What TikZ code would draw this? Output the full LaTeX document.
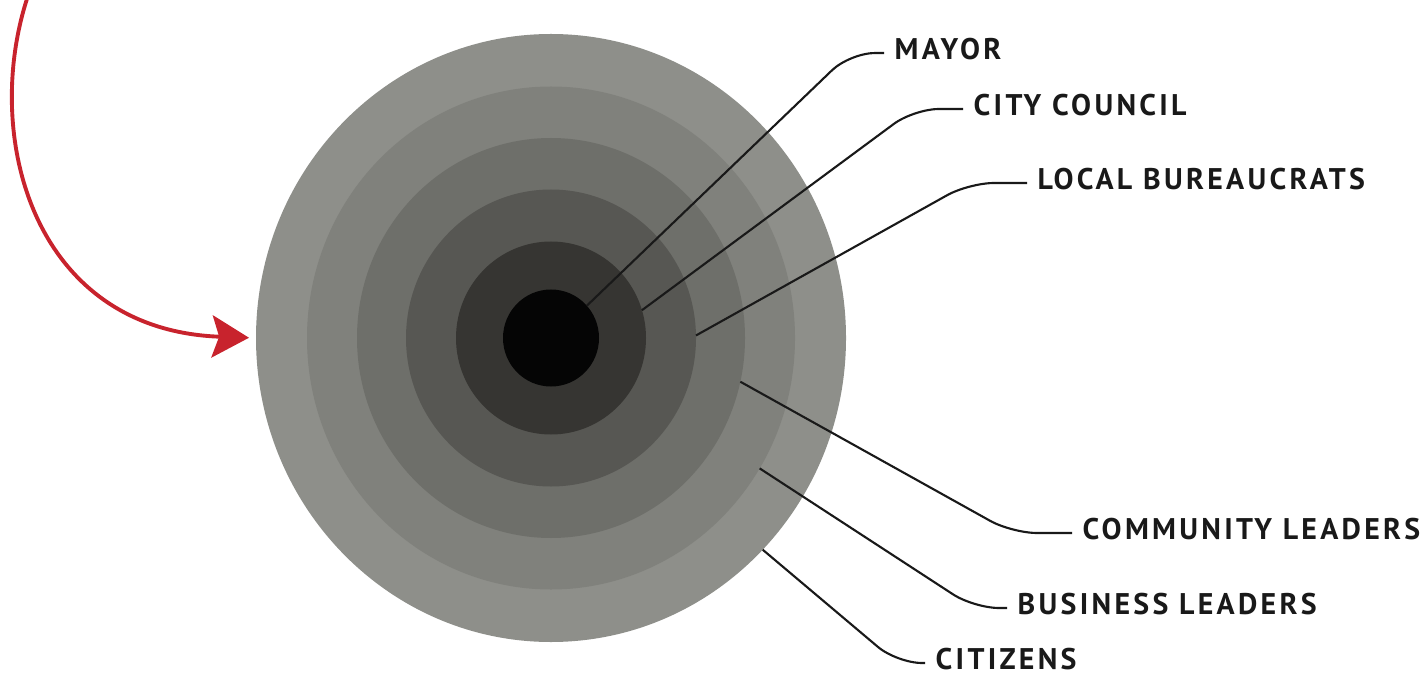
\documentclass[tikz,border=0pt]{standalone}
\usepackage{fontspec}
\usepackage{xcolor}
\usetikzlibrary{arrows.meta, shapes.geometric}
\newfontfamily\labelfont{PT Sans}[LetterSpace=11]

\definecolor{ringA}{HTML}{8E8F8A}
\definecolor{ringB}{HTML}{80817C}
\definecolor{ringC}{HTML}{6E6F6A}
\definecolor{ringD}{HTML}{575753}
\definecolor{ringE}{HTML}{363532}
\definecolor{ringF}{HTML}{050505}
\definecolor{arrowred}{HTML}{C8232D}

\begin{document}
\begin{tikzpicture}[>=Stealth,
    disk/.style={ellipse, inner sep=0pt, outer sep=0pt, draw=none},
    lab/.style={anchor=west, inner xsep=0.1cm, inner ysep=0pt, text=black!90,
                text height=6pt, text depth=2.4pt,
                font=\labelfont\bfseries\fontsize{8.5}{10}\selectfont},
    leader/.style={line width=0.6pt, black!90, rounded corners=0.25cm}]
    \useasboundingbox (0,0) rectangle (14.21,6.75);

    % Target rings, outermost first
    \coordinate (c) at (5.51,3.37);
    \node[disk, fill=ringA, minimum width=5.90cm, minimum height=6.08cm] (citizens-ring) at (c) {};
    \node[disk, fill=ringB, minimum width=4.88cm, minimum height=5.03cm] (business-ring) at (c) {};
    \node[disk, fill=ringC, minimum width=3.88cm, minimum height=4.00cm] (community-ring) at (c) {};
    \node[disk, fill=ringD, minimum width=2.90cm, minimum height=2.97cm] (local-ring) at (c) {};
    \node[disk, fill=ringE, minimum width=1.90cm, minimum height=1.93cm] (council-ring) at (c) {};
    \node[disk, fill=ringF, minimum width=0.96cm, minimum height=0.97cm] (mayor-ring) at (c) {};

    % Labels
    \node[lab] (mayor) at (8.84,6.22) {MAYOR};
    \node[lab] (council) at (9.63,5.66) {CITY COUNCIL};
    \node[lab] (local) at (10.27,4.92) {LOCAL BUREAUCRATS};
    \node[lab] (community) at (10.72,1.42) {COMMUNITY LEADERS};
    \node[lab] (business) at (10.07,0.67) {BUSINESS LEADERS};
    \node[lab] (citizens) at (9.25,0.12) {CITIZENS};

    % Bends of the leaders
    \coordinate (mayor-bend) at (8.50,6.22);
    \coordinate (council-bend) at (9.14,5.66);
    \coordinate (local-bend) at (9.69,4.92);
    \coordinate (community-bend) at (10.12,1.42);
    \coordinate (business-bend) at (9.74,0.67);
    \coordinate (citizens-bend) at (8.97,0.12);

    % Leaders
    \draw[leader] (mayor-ring.42.5) -- (mayor-bend) -- (mayor.west);
    \draw[leader] (council-ring.17.5) -- (council-bend) -- (council.west);
    \draw[leader] (local-ring.1.2) -- (local-bend) -- (local.west);
    \draw[leader] (community-ring.-13.1) -- (community-bend) -- (community.west);
    \draw[leader] (business-ring.-32.1) -- (business-bend) -- (business.west);
    \draw[leader] (citizens-ring.-45.1) -- (citizens-bend) -- (citizens.west);

    % Red arrow
    \coordinate (arrow-start) at (0.30,6.85);
    \draw[arrowred, line width=1.1pt, shorten >=0.07cm,
          -{Stealth[length=10.5pt, width=12pt, inset=2pt]}]
        (arrow-start) .. controls (-0.20,5.45) and (0.30,3.45) .. (citizens-ring.west);
\end{tikzpicture}
\end{document}
